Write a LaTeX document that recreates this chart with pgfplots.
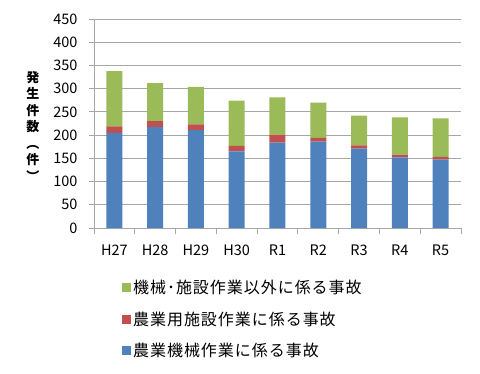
\documentclass[border=0pt]{standalone}
\usepackage{fontspec}
\setmainfont{Noto Sans CJK JP}
\newfontfamily\legfont[LetterSpace=6]{Noto Sans CJK JP}
\usepackage{pgfplots}
\pgfplotsset{compat=1.18}
\definecolor{cblue}{HTML}{4F81BD}
\definecolor{cred}{HTML}{C0504D}
\definecolor{cgreen}{HTML}{9BBB59}
\definecolor{cgrid}{HTML}{A6A6A6}
\begin{document}
\begin{tikzpicture}
\useasboundingbox (0pt,0pt) rectangle (480pt,-374pt);
\begin{axis}[
  at={(94pt,-228pt)}, anchor=south west,
  scale only axis, width=367pt, height=209pt,
  ybar stacked, bar width=16pt,
  xmin=-0.5, xmax=8.5, ymin=0, ymax=450,
  ytick={0,50,...,450},
  xtick={0,...,8},
  xticklabels={H27,H28,H29,H30,R1,R2,R3,R4,R5},
  minor xtick={-0.5,0.5,...,8.5},
  axis x line*=bottom, axis y line*=left,
  axis line style={cgrid, line width=0.8pt},
  ymajorgrids, grid style={cgrid, line width=0.8pt},
  major x tick style={draw=none},
  minor x tick style={cgrid, line width=0.8pt},
  major y tick style={cgrid, line width=0.8pt},
  tick align=outside, major tick length=5pt, minor tick length=6pt,
  /pgf/number format/assume math mode=true,
  tick label style={font=\fontsize{14.5}{16}\selectfont},
  xticklabel style={yshift=-8pt},
  yticklabel style={xshift=-8pt},
  legend style={at={(0.068,-0.23)}, anchor=north west, draw=none, fill=none,
    font=\legfont\fontsize{16}{18}\selectfont, row sep=12.5pt, cells={anchor=west}},
  legend image code/.code={\fill[#1] (0pt,-4.5pt) rectangle (9pt,4.5pt);},
  reverse legend,
]
\addplot[fill=cblue, draw=none] coordinates {(0,205) (1,218) (2,211) (3,165) (4,184) (5,186) (6,171) (7,152) (8,147)};
\addplot[fill=cred, draw=none] coordinates {(0,14) (1,12) (2,12) (3,12) (4,17) (5,8) (6,7) (7,6) (8,6)};
\addplot[fill=cgreen, draw=none] coordinates {(0,119) (1,82) (2,81) (3,97) (4,80) (5,76) (6,64) (7,80) (8,83)};
\legend{農業機械作業に係る事故, 農業用施設作業に係る事故, 機械･施設作業以外に係る事故}
\end{axis}
\node[font=\bfseries\fontsize{13}{16.5}\selectfont, align=center] at (33pt,-126pt) {発\\生\\件\\数\\︵\\件\\︶};
\end{tikzpicture}
\end{document}
